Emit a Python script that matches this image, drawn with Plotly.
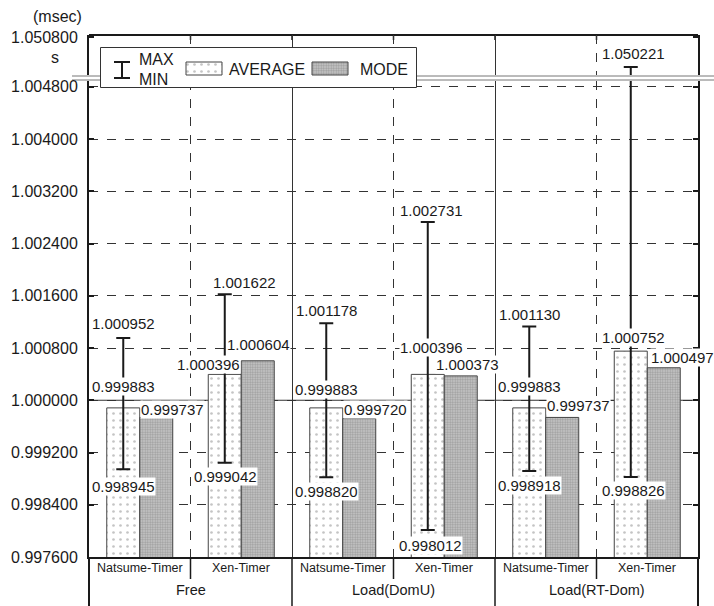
import plotly.graph_objects as go

# ---------------- data ----------------
groups = ["Free", "Load(DomU)", "Load(RT-Dom)"]
timers = ["Natsume-Timer", "Xen-Timer"]
avg_vals = [0.999883, 1.000396, 0.999883, 1.000396, 0.999883, 1.000752]
mode_vals = [0.999737, 1.000604, 0.999720, 1.000373, 0.999737, 1.000497]
max_vals = [1.000952, 1.001622, 1.001178, 1.002731, 1.001130, 1.050221]
min_vals = [0.998945, 0.999042, 0.998820, 0.998012, 0.998918, 0.998826]
lower_ticks = [0.9976, 0.9984, 0.9992, 1.0000, 1.0008, 1.0016, 1.0024, 1.0032, 1.0040, 1.0048]
upper_ticks = [1.0508]
REF_LINE = 1.0

# ---------------- label offsets (px) ----------------
max_dx = [0, 20, 0, 4, 0, 3]
max_dy = [15, 12, 13, 11, 12, 14]
avg_dx = [0, -16, 0, 4, 0, 3]
avg_dy = [21, 10, 18, 27, 21, 14]
mode_dx = [0, -16, 0, -10, 0, 2]
mode_dy = [8, 16, 9, 11, 12, 10]
min_dx = [0, 1, 0, 3, 0, 3]
min_dy = [-17, -14, -14, -15, -15, -14]

# ---------------- geometry ----------------
W, H = 714, 606
ML, MR, MT, MB = 89, 16, 35, 49
PW = W - ML - MR
PH = H - MT - MB
FONT = "Liberation Sans, Arial, sans-serif"
INK = "#1a1a1a"


def px_x(px):
    return (px - ML) / PW


def px_y(py):
    return (H - MB - py) / PH


n = len(groups) * len(timers)
xs = list(range(n))
BW = 0.325
LOW_RANGE = [0.9976, 1.004888]
UP_RANGE = [1.050067, 1.05084]

avg_pattern = dict(shape=".", fgcolor="#8a8a8a", bgcolor="white", size=7, solidity=0.12)
mode_pattern = dict(shape=".", fgcolor="#707070", bgcolor="#cacaca", size=2.5, solidity=0.5)
err = dict(type="data", symmetric=False,
           array=[mx - a for mx, a in zip(max_vals, avg_vals)],
           arrayminus=[a - mn for a, mn in zip(avg_vals, min_vals)],
           color=INK, thickness=2, width=7)

fig = go.Figure()
fig.add_trace(go.Bar(x=xs, y=avg_vals, width=BW, offset=-BW, xaxis="x", yaxis="y",
                     marker=dict(color="white", line=dict(color="#444", width=1), pattern=avg_pattern),
                     error_y=err, showlegend=False, hoverinfo="skip"))
fig.add_trace(go.Bar(x=xs, y=mode_vals, width=BW, offset=0, xaxis="x", yaxis="y",
                     marker=dict(color="#cacaca", line=dict(color="#444", width=1), pattern=mode_pattern),
                     showlegend=False, hoverinfo="skip"))
# same whiskers on the upper (broken) segment of the axis
fig.add_trace(go.Bar(x=xs, y=avg_vals, width=BW, offset=-BW, xaxis="x", yaxis="y2",
                     marker=dict(color="white", line=dict(color="#444", width=1)),
                     error_y=err, showlegend=False, hoverinfo="skip"))

# legend swatches (in a small overlay subplot)
fig.add_trace(go.Bar(x=[104], y=[13], base=[13], width=36, xaxis="x3", yaxis="y3",
                     marker=dict(color="white", line=dict(color="#444", width=1), pattern=avg_pattern),
                     showlegend=False, hoverinfo="skip"))
fig.add_trace(go.Bar(x=[230], y=[13], base=[13], width=36, xaxis="x3", yaxis="y3",
                     marker=dict(color="#cacaca", line=dict(color="#444", width=1), pattern=mode_pattern),
                     showlegend=False, hoverinfo="skip"))

ann = []


def yref_for(v):
    return "y" if v <= LOW_RANGE[1] else "y2"


def label(x, v, dx, dy):
    ann.append(dict(x=x, y=v, xref="x", yref=yref_for(v), text=f"{v:.6f}", showarrow=False,
                    xshift=dx, yshift=dy, xanchor="center", yanchor="middle",
                    font=dict(family=FONT, size=15, color=INK), bgcolor="white", borderpad=0))


for i in xs:
    wx = i - BW / 2
    label(wx, max_vals[i], max_dx[i], max_dy[i])
    label(wx, avg_vals[i], avg_dx[i], avg_dy[i])
    label(i + BW, mode_vals[i], mode_dx[i], mode_dy[i])
    label(wx, min_vals[i], min_dx[i], min_dy[i])

# category labels
for gi, g in enumerate(groups):
    for ti, t in enumerate(timers):
        k = gi * len(timers) + ti
        ann.append(dict(x=k, y=0, xref="x", yref="paper", text=t, showarrow=False,
                        yshift=-11, yanchor="middle", font=dict(family=FONT, size=12.5, color=INK)))
    ann.append(dict(x=gi * len(timers) + (len(timers) - 1) / 2, y=0, xref="x", yref="paper", text=g,
                    showarrow=False, yshift=-33, yanchor="middle",
                    font=dict(family=FONT, size=14.5, color=INK)))

# axis unit texts
ann.append(dict(x=px_x(57), y=px_y(17), xref="paper", yref="paper", text="(msec)", showarrow=False,
                xanchor="center", yanchor="middle", font=dict(family=FONT, size=16, color=INK)))
ann.append(dict(x=px_x(55), y=px_y(57), xref="paper", yref="paper", text="s", showarrow=False,
                xanchor="center", yanchor="middle", font=dict(family=FONT, size=16, color=INK)))

# legend texts
for txt, lx, ly in [("MAX", 137, 60), ("MIN", 137, 79), ("AVERAGE", 227, 69), ("MODE", 358, 69)]:
    ann.append(dict(x=px_x(lx), y=px_y(ly), xref="paper", yref="paper", text=txt, showarrow=False,
                    xanchor="left", yanchor="middle", font=dict(family=FONT, size=16, color=INK)))

shapes = []
# solid reference line at 1.000000
shapes.append(dict(type="line", xref="x", yref="y", x0=-0.5, x1=n - 0.5, y0=REF_LINE, y1=REF_LINE,
                   layer="between", line=dict(color="#333", width=1)))
# axis break double line
for by in (76, 80):
    shapes.append(dict(type="line", xref="paper", yref="paper", x0=px_x(72), x1=px_x(714),
                       y0=px_y(by), y1=px_y(by), layer="below", line=dict(color="#777", width=1)))
# top border and its ticks
shapes.append(dict(type="line", xref="x domain", yref="paper", x0=0, x1=1, y0=1, y1=1,
                   layer="below", line=dict(color=INK, width=2)))
for k in range(1, n):
    shapes.append(dict(type="line", xref="x domain", yref="paper", x0=k / n, x1=k / n,
                       y0=1, y1=px_y(MT + 5), layer="below", line=dict(color=INK, width=1.5)))
# category table lines
for gi in range(len(groups) + 1):
    f = gi * len(timers) / n
    shapes.append(dict(type="line", xref="x domain", yref="paper", x0=f, x1=f, y0=0, y1=px_y(H),
                       layer="below", line=dict(color=INK, width=2 if gi in (0, len(groups)) else 1.5)))
for gi in range(len(groups)):
    for ti in range(1, len(timers)):
        f = (gi * len(timers) + ti) / n
        shapes.append(dict(type="line", xref="x domain", yref="paper", x0=f, x1=f, y0=0, y1=px_y(579),
                           layer="below", line=dict(color=INK, width=1.5)))
# legend box and I-beam
shapes.append(dict(type="rect", xref="x3", yref="y3", x0=0.5, x1=316.5, y0=0.5, y1=40.5,
                   fillcolor="white", layer="below", line=dict(color="#333", width=1)))
shapes.append(dict(type="line", xref="x3", yref="y3", x0=22, x1=22, y0=10, y1=26, layer="below",
                   line=dict(color=INK, width=2)))
for cy in (10, 26):
    shapes.append(dict(type="line", xref="x3", yref="y3", x0=14, x1=30, y0=cy, y1=cy, layer="below",
                       line=dict(color=INK, width=2)))

yax_common = dict(ticks="inside", ticklen=5, tickwidth=1.5, tickcolor=INK, showline=True,
                  linewidth=2, linecolor=INK, mirror="ticks", tickformat=".6f",
                  tickfont=dict(family=FONT, size=16, color=INK), ticklabelstandoff=6,
                  zeroline=False, automargin=False, fixedrange=True)

fig.update_layout(
    width=W, height=H, margin=dict(l=ML, r=MR, t=MT, b=MB, autoexpand=False),
    paper_bgcolor="white", plot_bgcolor="white", barmode="overlay", showlegend=False,
    xaxis=dict(range=[-0.5, n - 0.5], domain=[0, 1], anchor="y", showline=True, linewidth=2,
               linecolor=INK, showticklabels=False, ticks="", zeroline=False,
               tickmode="array", tickvals=[1.5, 3.5], showgrid=True, gridcolor="#333", gridwidth=1,
               minor=dict(tickmode="array", tickvals=[0.5, 2.5, 4.5], showgrid=True,
                          gridcolor="#333", griddash="dash", gridwidth=1, ticks=""),
               automargin=False, fixedrange=True),
    yaxis=dict(range=LOW_RANGE, domain=[0, px_y(81)], anchor="x", tickmode="array",
               tickvals=lower_ticks, showgrid=True, gridcolor="#333", griddash="dash", gridwidth=1,
               **yax_common),
    yaxis2=dict(range=UP_RANGE, domain=[px_y(75), 1], anchor="x", tickmode="array",
                tickvals=upper_ticks, showgrid=False, **yax_common),
    xaxis3=dict(range=[0, 317], domain=[px_x(100), px_x(417)], anchor="y3", visible=False,
                fixedrange=True),
    yaxis3=dict(range=[0, 41], domain=[px_y(88), px_y(47)], anchor="x3", visible=False,
                fixedrange=True),
    annotations=ann, shapes=shapes,
)

fig.write_html("out.html")
